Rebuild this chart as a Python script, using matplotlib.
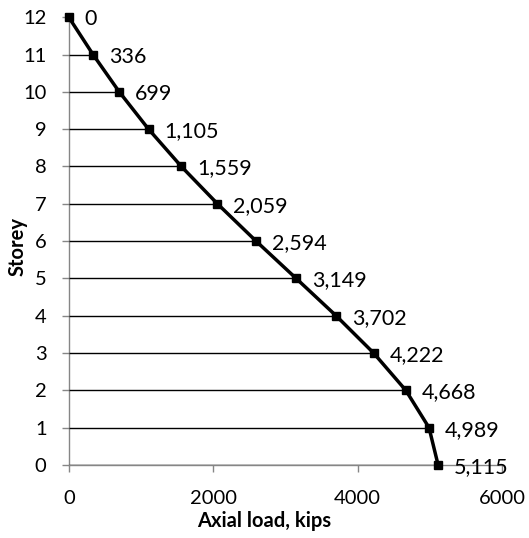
import matplotlib
matplotlib.use("Agg")
import matplotlib.pyplot as plt
from matplotlib.ticker import MultipleLocator

plt.rcParams['font.family'] = ['Lato', 'DejaVu Sans']

storey = [12, 11, 10, 9, 8, 7, 6, 5, 4, 3, 2, 1, 0]
axial_load = [0, 336, 699, 1105, 1559, 2059, 2594, 3149, 3702, 4222, 4668, 4989, 5115]
x_ticks = [0, 2000, 4000, 6000]

fig = plt.figure(figsize=(5.29, 5.38), dpi=100)
ax = fig.add_axes([0.130, 0.1357, 0.819, 0.8323])

# horizontal lines from the axis to each storey's load
ax.hlines(storey, 0, axial_load, colors='black', linewidth=1.0, zorder=2)

ax.plot(axial_load, storey, color='black', linewidth=2.5, marker='s',
        markersize=5.5, zorder=3, clip_on=False)

for x, y in zip(axial_load, storey):
    ax.annotate(f"{x:,}", (x, y), xytext=(11.5, -1.5), textcoords='offset points',
                ha='left', va='center', fontsize=15.5)

ax.set_xlim(0, 6000)
ax.set_ylim(0, 12)
ax.set_xticks(x_ticks)
ax.yaxis.set_major_locator(MultipleLocator(1))

for side in ('top', 'right'):
    ax.spines[side].set_visible(False)
for side in ('left', 'bottom'):
    ax.spines[side].set_color('#868686')
    ax.spines[side].set_linewidth(1.0)
    ax.spines[side].set_zorder(1)

ax.tick_params(axis='both', labelsize=14.5, colors='#868686', labelcolor='black',
               length=5, width=1.0, direction='out')
ax.tick_params(axis='y', pad=11)
ax.tick_params(axis='x', pad=13)

ax.set_xlabel('Axial load, kips', fontsize=14.5, fontweight='bold')
ax.set_ylabel('Storey', fontsize=14.5, fontweight='bold')
ax.xaxis.set_label_coords(0.45, -0.103)
ax.yaxis.set_label_coords(-0.095, 0.487)

fig.savefig('out.png', dpi=100)
